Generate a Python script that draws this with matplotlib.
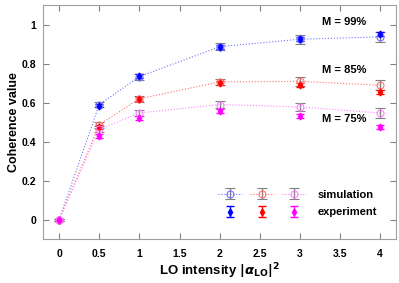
import matplotlib.pyplot as plt
from matplotlib.legend_handler import HandlerTuple

plt.rcParams['font.family'] = ['Liberation Sans', 'DejaVu Sans']
plt.rcParams['font.weight'] = 'bold'

x = [0, 0.5, 1, 2, 3, 4]

sim_99 = [0, 0.59, 0.733, 0.887, 0.925, 0.937]
sim_85 = [0, 0.487, 0.62, 0.706, 0.709, 0.689]
sim_75 = [0, 0.463, 0.547, 0.59, 0.578, 0.547]
sim_err = [0.005, 0.015, 0.015, 0.017, 0.022, 0.025]

exp_99 = [0, 0.585, 0.735, 0.885, 0.925, 0.95]
exp_85 = [0, 0.477, 0.62, 0.70, 0.689, 0.655]
exp_75 = [0, 0.429, 0.523, 0.555, 0.532, 0.475]
exp_err = [0.005, 0.01, 0.01, 0.01, 0.01, 0.01]

labels = ['M = 99%', 'M = 85%', 'M = 75%']
label_y = [1.0, 0.75, 0.5]

fig, ax = plt.subplots(figsize=(3.99, 2.83), dpi=100)
fig.subplots_adjust(left=0.108, right=0.993, top=0.982, bottom=0.155)

sims = [sim_99, sim_85, sim_75]
exps = [exp_99, exp_85, exp_75]
light = ['#7070ff', '#ff7070', '#ff80ff']
dark = ['#0000ff', '#ff0000', '#ff00ff']

sim_h = []
exp_h = []
for s, e, lc, dc in zip(sims, exps, light, dark):
    h = ax.errorbar(x, s, yerr=sim_err, fmt='o', ls=':', color=lc, lw=0.8,
                    mfc='none', mec=lc, ms=5, ecolor='#808080',
                    elinewidth=1, capsize=3.5, mew=0.8)
    sim_h.append(h)
    h2 = ax.errorbar(x, e, yerr=exp_err, fmt='d', color=dc, ms=3.5,
                     ecolor=dc, elinewidth=1, capsize=3)
    exp_h.append(h2)

for t, ty in zip(labels, label_y):
    ax.text(3.28, ty, t, fontsize=8, fontweight='bold')

leg = ax.legend([tuple(sim_h), tuple(exp_h)], ['simulation', 'experiment'],
                handler_map={tuple: HandlerTuple(ndivide=None, pad=0.75)},
                loc='lower right', bbox_to_anchor=(0.975, 0.05), frameon=False,
                handlelength=7.9, fontsize=8, labelspacing=0.7, handletextpad=1.1)

ax.set_xlim(-0.2, 4.2)
ax.set_ylim(-0.1, 1.1)
ax.set_xticks([0, 0.5, 1, 1.5, 2, 2.5, 3, 3.5, 4])
ax.set_xticklabels(['0', '0.5', '1', '1.5', '2', '2.5', '3', '3.5', '4'])
ax.set_yticks([0, 0.2, 0.4, 0.6, 0.8, 1])
ax.set_yticklabels(['0', '0.2', '0.4', '0.6', '0.8', '1'])
ax.tick_params(direction='in', top=True, right=True, labelsize=7.5,
               color='#808080', length=4)
ax.tick_params(axis='x', pad=7)
ax.tick_params(axis='y', pad=5)
for sp in ax.spines.values():
    sp.set_color('#a0a0a0')
ax.set_xlabel(r'LO intensity $|\alpha_{\mathbf{LO}}|^2$', fontsize=9.5, fontweight='bold',
              labelpad=2)
ax.set_ylabel('Coherence value', fontsize=9, fontweight='bold', labelpad=1)

fig.savefig('out.png')
